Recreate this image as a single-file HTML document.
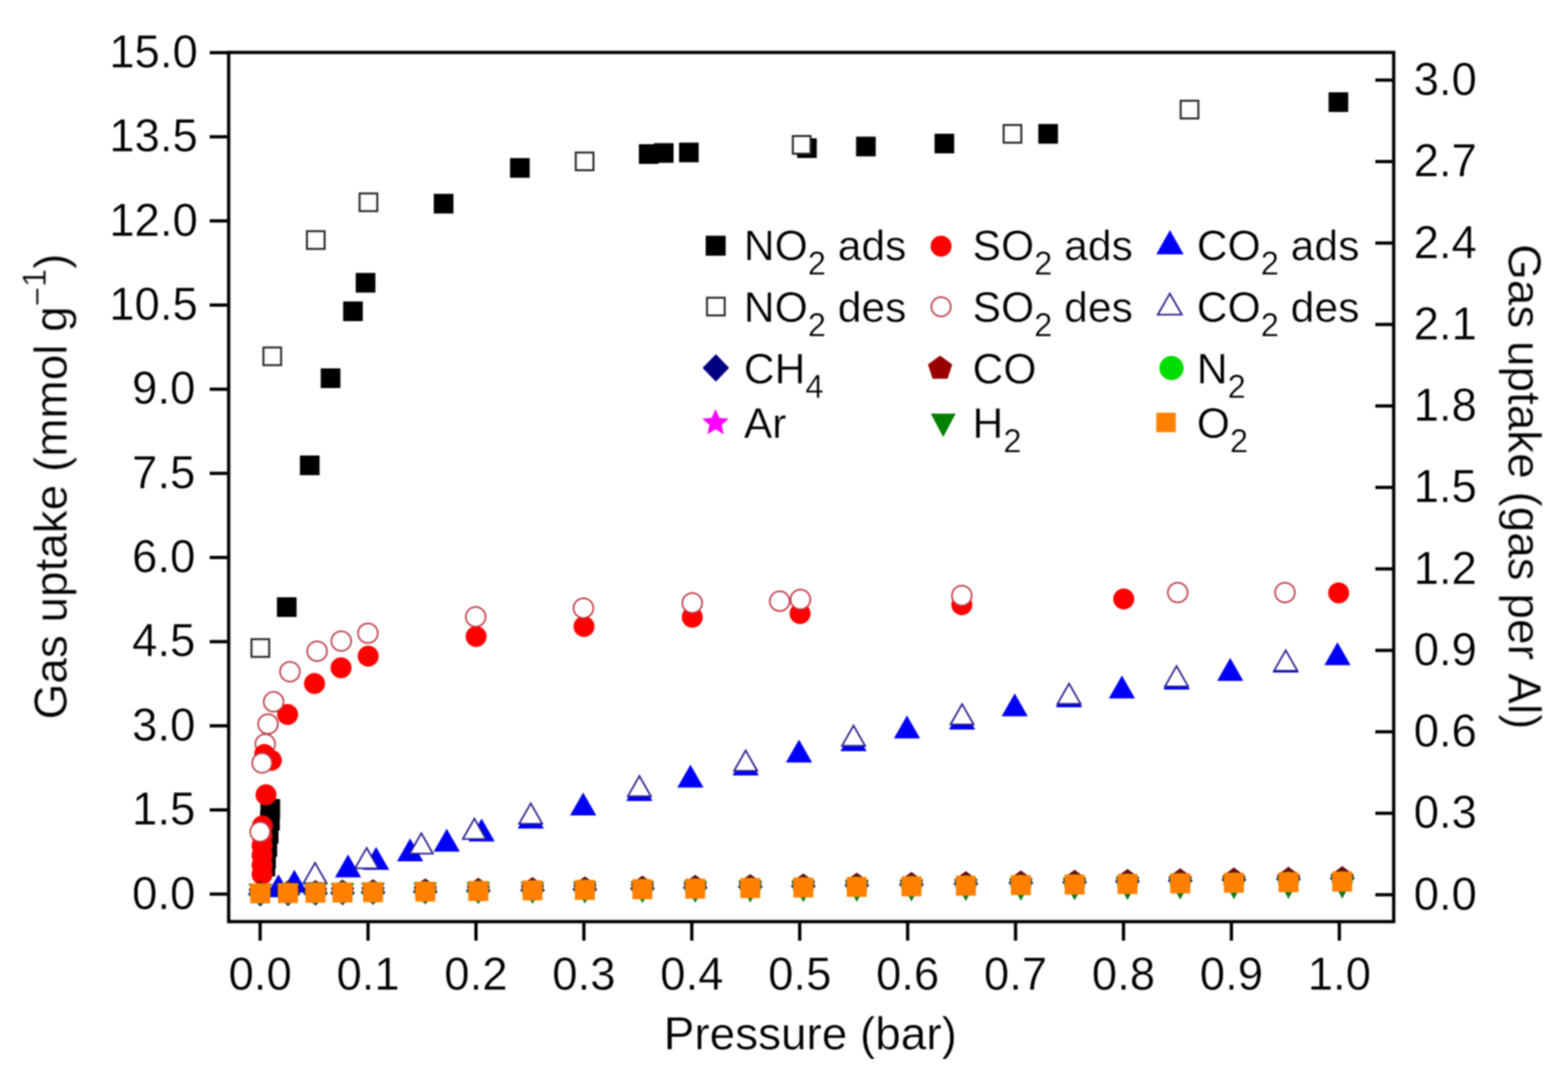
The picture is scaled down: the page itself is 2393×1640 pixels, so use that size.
<!DOCTYPE html>
<html><head><meta charset="utf-8"><title>Gas uptake vs pressure</title>
<style>html,body{margin:0;padding:0;background:#fff;}svg{display:block;}</style>
</head><body>
<svg width="2393" height="1640" viewBox="0 0 2393 1640">
<defs><filter id="soft" x="0" y="0" width="1" height="1" color-interpolation-filters="sRGB"><feGaussianBlur stdDeviation="0.8"/></filter></defs>
<rect width="2393" height="1640" fill="#fff"/>
<g filter="url(#soft)">
<rect x="397.5" y="1219.0" width="30" height="30" fill="#000"/>
<rect x="397.0" y="1237.0" width="30" height="30" fill="#000"/>
<rect x="395.0" y="1257.0" width="30" height="30" fill="#000"/>
<rect x="393.0" y="1277.0" width="30" height="30" fill="#000"/>
<rect x="391.0" y="1295.0" width="30" height="30" fill="#000"/>
<rect x="390.0" y="1307.0" width="30" height="30" fill="#000"/>
<rect x="422.6" y="911.2" width="30" height="30" fill="#000"/>
<rect x="457.7" y="694.9" width="30" height="30" fill="#000"/>
<rect x="489.5" y="562.0" width="30" height="30" fill="#000"/>
<rect x="523.7" y="459.9" width="30" height="30" fill="#000"/>
<rect x="542.9" y="416.4" width="30" height="30" fill="#000"/>
<rect x="662.0" y="295.7" width="30" height="30" fill="#000"/>
<rect x="778.4" y="241.2" width="30" height="30" fill="#000"/>
<rect x="975.0" y="220.0" width="30" height="30" fill="#000"/>
<rect x="998.0" y="218.4" width="30" height="30" fill="#000"/>
<rect x="1036.3" y="217.6" width="30" height="30" fill="#000"/>
<rect x="1216.5" y="211.0" width="30" height="30" fill="#000"/>
<rect x="1306.5" y="208.5" width="30" height="30" fill="#000"/>
<rect x="1426.3" y="204.0" width="30" height="30" fill="#000"/>
<rect x="1584.6" y="189.2" width="30" height="30" fill="#000"/>
<rect x="2027.6" y="140.8" width="30" height="30" fill="#000"/>
<circle cx="400.0" cy="1334.0" r="16" fill="#f00"/>
<circle cx="400.0" cy="1320.0" r="16" fill="#f00"/>
<circle cx="400.0" cy="1305.0" r="16" fill="#f00"/>
<circle cx="400.0" cy="1290.0" r="16" fill="#f00"/>
<circle cx="400.0" cy="1275.0" r="16" fill="#f00"/>
<circle cx="400.5" cy="1260.0" r="16" fill="#f00"/>
<circle cx="406.0" cy="1212.6" r="16" fill="#f00"/>
<circle cx="414.0" cy="1160.0" r="16" fill="#f00"/>
<circle cx="439.0" cy="1090.0" r="16" fill="#f00"/>
<circle cx="480.0" cy="1042.8" r="16" fill="#f00"/>
<circle cx="520.5" cy="1018.7" r="16" fill="#f00"/>
<circle cx="561.9" cy="1001.0" r="16" fill="#f00"/>
<circle cx="726.6" cy="971.0" r="16" fill="#f00"/>
<circle cx="891.3" cy="955.7" r="16" fill="#f00"/>
<circle cx="1056.5" cy="941.6" r="16" fill="#f00"/>
<circle cx="1221.0" cy="936.0" r="16" fill="#f00"/>
<circle cx="1467.9" cy="922.5" r="16" fill="#f00"/>
<circle cx="1715.0" cy="913.7" r="16" fill="#f00"/>
<circle cx="2043.0" cy="904.5" r="16" fill="#f00"/>
<polygon points="425.0,1333.7 405.0,1368.7 445.0,1368.7" fill="#0000f5"/>
<polygon points="449.2,1326.8 429.2,1361.8 469.2,1361.8" fill="#0000f5"/>
<polygon points="531.2,1303.5 511.2,1338.5 551.2,1338.5" fill="#0000f5"/>
<polygon points="574.0,1292.0 554.0,1327.0 594.0,1327.0" fill="#0000f5"/>
<polygon points="625.9,1279.0 605.9,1314.0 645.9,1314.0" fill="#0000f5"/>
<polygon points="681.8,1264.3 661.8,1299.3 701.8,1299.3" fill="#0000f5"/>
<polygon points="735.0,1248.8 715.0,1283.8 755.0,1283.8" fill="#0000f5"/>
<polygon points="810.0,1229.0 790.0,1264.0 830.0,1264.0" fill="#0000f5"/>
<polygon points="890.0,1209.0 870.0,1244.0 910.0,1244.0" fill="#0000f5"/>
<polygon points="975.8,1187.0 955.8,1222.0 995.8,1222.0" fill="#0000f5"/>
<polygon points="1053.7,1166.4 1033.7,1201.4 1073.7,1201.4" fill="#0000f5"/>
<polygon points="1138.0,1148.0 1118.0,1183.0 1158.0,1183.0" fill="#0000f5"/>
<polygon points="1219.4,1128.2 1199.4,1163.2 1239.4,1163.2" fill="#0000f5"/>
<polygon points="1302.6,1111.0 1282.6,1146.0 1322.6,1146.0" fill="#0000f5"/>
<polygon points="1384.2,1091.6 1364.2,1126.6 1404.2,1126.6" fill="#0000f5"/>
<polygon points="1468.3,1078.0 1448.3,1113.0 1488.3,1113.0" fill="#0000f5"/>
<polygon points="1548.6,1057.7 1528.6,1092.7 1568.6,1092.7" fill="#0000f5"/>
<polygon points="1631.5,1044.0 1611.5,1079.0 1651.5,1079.0" fill="#0000f5"/>
<polygon points="1712.2,1030.5 1692.2,1065.5 1732.2,1065.5" fill="#0000f5"/>
<polygon points="1795.6,1017.0 1775.6,1052.0 1815.6,1052.0" fill="#0000f5"/>
<polygon points="1877.5,1003.7 1857.5,1038.7 1897.5,1038.7" fill="#0000f5"/>
<polygon points="1962.2,991.0 1942.2,1026.0 1982.2,1026.0" fill="#0000f5"/>
<polygon points="2041.2,979.7 2021.2,1014.7 2061.2,1014.7" fill="#0000f5"/>
<rect x="383.8" y="975.1" width="27" height="27" fill="#fff" stroke="#262626" stroke-width="3"/>
<rect x="402.0" y="530.1" width="27" height="27" fill="#fff" stroke="#262626" stroke-width="3"/>
<rect x="468.4" y="352.7" width="27" height="27" fill="#fff" stroke="#262626" stroke-width="3"/>
<rect x="548.8" y="295.1" width="27" height="27" fill="#fff" stroke="#262626" stroke-width="3"/>
<rect x="878.7" y="232.7" width="27" height="27" fill="#fff" stroke="#262626" stroke-width="3"/>
<rect x="1210.0" y="207.5" width="27" height="27" fill="#fff" stroke="#262626" stroke-width="3"/>
<rect x="1531.7" y="190.7" width="27" height="27" fill="#fff" stroke="#262626" stroke-width="3"/>
<rect x="1801.9" y="153.7" width="27" height="27" fill="#fff" stroke="#262626" stroke-width="3"/>
<circle cx="397.0" cy="1269.0" r="15.1" fill="#fff" stroke="#bd3c48" stroke-width="2.5"/>
<circle cx="404.8" cy="1135.0" r="15.1" fill="#fff" stroke="#bd3c48" stroke-width="2.5"/>
<circle cx="409.0" cy="1104.5" r="15.1" fill="#fff" stroke="#bd3c48" stroke-width="2.5"/>
<circle cx="417.6" cy="1070.7" r="15.1" fill="#fff" stroke="#bd3c48" stroke-width="2.5"/>
<circle cx="442.5" cy="1024.8" r="15.1" fill="#fff" stroke="#bd3c48" stroke-width="2.5"/>
<circle cx="484.0" cy="993.5" r="15.1" fill="#fff" stroke="#bd3c48" stroke-width="2.5"/>
<circle cx="520.8" cy="978.0" r="15.1" fill="#fff" stroke="#bd3c48" stroke-width="2.5"/>
<circle cx="561.5" cy="966.0" r="15.1" fill="#fff" stroke="#bd3c48" stroke-width="2.5"/>
<circle cx="726.0" cy="941.0" r="15.1" fill="#fff" stroke="#bd3c48" stroke-width="2.5"/>
<circle cx="890.4" cy="927.8" r="15.1" fill="#fff" stroke="#bd3c48" stroke-width="2.5"/>
<circle cx="1056.5" cy="919.9" r="15.1" fill="#fff" stroke="#bd3c48" stroke-width="2.5"/>
<circle cx="1189.9" cy="917.2" r="15.1" fill="#fff" stroke="#bd3c48" stroke-width="2.5"/>
<circle cx="1221.6" cy="914.5" r="15.1" fill="#fff" stroke="#bd3c48" stroke-width="2.5"/>
<circle cx="1467.9" cy="908.6" r="15.1" fill="#fff" stroke="#bd3c48" stroke-width="2.5"/>
<circle cx="1797.4" cy="904.0" r="15.1" fill="#fff" stroke="#bd3c48" stroke-width="2.5"/>
<circle cx="1961.0" cy="904.0" r="15.1" fill="#fff" stroke="#bd3c48" stroke-width="2.5"/>
<circle cx="403.5" cy="1150.5" r="15.5" fill="#f00"/>
<circle cx="400.0" cy="1164.0" r="15.1" fill="#fff" stroke="#bd3c48" stroke-width="2.5"/>
<polygon points="480.8,1316.3 463.1,1347.4 498.5,1347.4" fill="#fff" stroke="#2a2090" stroke-width="2.6" stroke-linejoin="miter"/>
<polygon points="559.6,1293.6 541.9,1324.7 577.3,1324.7" fill="#fff" stroke="#2a2090" stroke-width="2.6" stroke-linejoin="miter"/>
<polygon points="643.0,1271.2 625.3,1302.3 660.7,1302.3" fill="#fff" stroke="#2a2090" stroke-width="2.6" stroke-linejoin="miter"/>
<polygon points="724.0,1248.9 706.3,1280.0 741.7,1280.0" fill="#fff" stroke="#2a2090" stroke-width="2.6" stroke-linejoin="miter"/>
<polygon points="810.0,1225.6 792.3,1256.7 827.7,1256.7" fill="#fff" stroke="#2a2090" stroke-width="2.6" stroke-linejoin="miter"/>
<polygon points="975.8,1183.8 958.1,1214.9 993.5,1214.9" fill="#fff" stroke="#2a2090" stroke-width="2.6" stroke-linejoin="miter"/>
<polygon points="1138.0,1144.9 1120.3,1176.0 1155.7,1176.0" fill="#fff" stroke="#2a2090" stroke-width="2.6" stroke-linejoin="miter"/>
<polygon points="1302.6,1106.8 1284.9,1137.9 1320.3,1137.9" fill="#fff" stroke="#2a2090" stroke-width="2.6" stroke-linejoin="miter"/>
<polygon points="1468.3,1074.2 1450.6,1105.3 1486.0,1105.3" fill="#fff" stroke="#2a2090" stroke-width="2.6" stroke-linejoin="miter"/>
<polygon points="1631.5,1042.8 1613.8,1073.9 1649.2,1073.9" fill="#fff" stroke="#2a2090" stroke-width="2.6" stroke-linejoin="miter"/>
<polygon points="1795.6,1016.1 1777.9,1047.2 1813.3,1047.2" fill="#fff" stroke="#2a2090" stroke-width="2.6" stroke-linejoin="miter"/>
<polygon points="1962.2,992.1 1944.5,1023.2 1979.9,1023.2" fill="#fff" stroke="#2a2090" stroke-width="2.6" stroke-linejoin="miter"/>
<polygon points="397.2,1345.0 416.2,1364.0 397.2,1383.0 378.2,1364.0" fill="#14086a"/>
<polygon points="397.2,1343.5 414.8,1356.3 408.1,1377.0 386.3,1377.0 379.6,1356.3" fill="#6a0808"/>
<circle cx="397.2" cy="1363.0" r="16" fill="#10c010"/>
<polygon points="397.2,1347.0 401.8,1357.7 413.4,1358.7 404.6,1366.4 407.2,1377.8 397.2,1371.8 387.2,1377.8 389.8,1366.4 381.0,1358.7 392.6,1357.7" fill="#ff00ff"/>
<polygon points="379.2,1348.0 415.2,1348.0 397.2,1382.0" fill="#0a7a10"/>
<rect x="381.9" y="1347.7" width="30.5" height="30.5" fill="#ff8000"/>
<polygon points="439.5,1344.4 458.5,1363.4 439.5,1382.4 420.5,1363.4" fill="#14086a"/>
<polygon points="439.5,1342.9 457.1,1355.7 450.4,1376.4 428.6,1376.4 421.9,1355.7" fill="#6a0808"/>
<circle cx="439.5" cy="1362.5" r="16" fill="#10c010"/>
<polygon points="439.5,1346.5 444.1,1357.2 455.7,1358.3 446.9,1366.0 449.5,1377.3 439.5,1371.4 429.5,1377.3 432.1,1366.0 423.3,1358.3 434.9,1357.2" fill="#ff00ff"/>
<polygon points="421.5,1347.7 457.5,1347.7 439.5,1381.7" fill="#0a7a10"/>
<rect x="424.2" y="1347.3" width="30.5" height="30.5" fill="#ff8000"/>
<polygon points="481.5,1343.8 500.5,1362.8 481.5,1381.8 462.5,1362.8" fill="#14086a"/>
<polygon points="481.5,1342.4 499.1,1355.2 492.4,1375.8 470.6,1375.8 463.9,1355.2" fill="#6a0808"/>
<circle cx="481.5" cy="1362.1" r="16" fill="#10c010"/>
<polygon points="481.5,1346.1 486.1,1356.7 497.7,1357.8 488.9,1365.5 491.5,1376.8 481.5,1370.9 471.5,1376.8 474.1,1365.5 465.3,1357.8 476.9,1356.7" fill="#ff00ff"/>
<polygon points="463.5,1347.4 499.5,1347.4 481.5,1381.4" fill="#0a7a10"/>
<rect x="466.2" y="1346.8" width="30.5" height="30.5" fill="#ff8000"/>
<polygon points="522.8,1343.2 541.8,1362.2 522.8,1381.2 503.8,1362.2" fill="#14086a"/>
<polygon points="522.8,1341.8 540.4,1354.6 533.7,1375.3 511.9,1375.3 505.2,1354.6" fill="#6a0808"/>
<circle cx="522.8" cy="1361.6" r="16" fill="#10c010"/>
<polygon points="522.8,1345.6 527.4,1356.3 539.0,1357.4 530.2,1365.0 532.8,1376.4 522.8,1370.4 512.8,1376.4 515.4,1365.0 506.6,1357.4 518.2,1356.3" fill="#ff00ff"/>
<polygon points="504.8,1347.2 540.8,1347.2 522.8,1381.2" fill="#0a7a10"/>
<rect x="507.5" y="1346.4" width="30.5" height="30.5" fill="#ff8000"/>
<polygon points="569.3,1342.5 588.3,1361.5 569.3,1380.5 550.3,1361.5" fill="#14086a"/>
<polygon points="569.3,1341.2 586.9,1354.0 580.2,1374.7 558.4,1374.7 551.7,1354.0" fill="#6a0808"/>
<circle cx="569.3" cy="1361.1" r="16" fill="#10c010"/>
<polygon points="569.3,1345.1 573.9,1355.8 585.5,1356.9 576.7,1364.5 579.3,1375.9 569.3,1369.9 559.3,1375.9 561.9,1364.5 553.1,1356.9 564.7,1355.8" fill="#ff00ff"/>
<polygon points="551.3,1346.8 587.3,1346.8 569.3,1380.8" fill="#0a7a10"/>
<rect x="554.0" y="1345.9" width="30.5" height="30.5" fill="#ff8000"/>
<polygon points="649.0,1341.3 668.0,1360.3 649.0,1379.3 630.0,1360.3" fill="#14086a"/>
<polygon points="649.0,1340.1 666.6,1352.9 659.9,1373.6 638.1,1373.6 631.4,1352.9" fill="#6a0808"/>
<circle cx="649.0" cy="1360.2" r="16" fill="#10c010"/>
<polygon points="649.0,1344.2 653.6,1354.9 665.2,1356.0 656.4,1363.7 659.0,1375.0 649.0,1369.1 639.0,1375.0 641.6,1363.7 632.8,1356.0 644.4,1354.9" fill="#ff00ff"/>
<polygon points="631.0,1346.3 667.0,1346.3 649.0,1380.3" fill="#0a7a10"/>
<rect x="633.8" y="1345.0" width="30.5" height="30.5" fill="#ff8000"/>
<polygon points="730.0,1340.1 749.0,1359.1 730.0,1378.1 711.0,1359.1" fill="#14086a"/>
<polygon points="730.0,1339.1 747.6,1351.8 740.9,1372.5 719.1,1372.5 712.4,1351.8" fill="#6a0808"/>
<circle cx="730.0" cy="1359.4" r="16" fill="#10c010"/>
<polygon points="730.0,1343.4 734.6,1354.0 746.2,1355.1 737.4,1362.8 740.0,1374.1 730.0,1368.2 720.0,1374.1 722.6,1362.8 713.8,1355.1 725.4,1354.0" fill="#ff00ff"/>
<polygon points="712.0,1345.8 748.0,1345.8 730.0,1379.8" fill="#0a7a10"/>
<rect x="714.8" y="1344.1" width="30.5" height="30.5" fill="#ff8000"/>
<polygon points="812.6,1338.9 831.6,1357.9 812.6,1376.9 793.6,1357.9" fill="#14086a"/>
<polygon points="812.6,1337.9 830.2,1350.7 823.5,1371.4 801.7,1371.4 795.0,1350.7" fill="#6a0808"/>
<circle cx="812.6" cy="1358.5" r="16" fill="#10c010"/>
<polygon points="812.6,1342.5 817.2,1353.1 828.8,1354.2 820.0,1361.9 822.6,1373.2 812.6,1367.3 802.6,1373.2 805.2,1361.9 796.4,1354.2 808.0,1353.1" fill="#ff00ff"/>
<polygon points="794.6,1345.2 830.6,1345.2 812.6,1379.2" fill="#0a7a10"/>
<rect x="797.4" y="1343.2" width="30.5" height="30.5" fill="#ff8000"/>
<polygon points="892.6,1337.8 911.6,1356.8 892.6,1375.8 873.6,1356.8" fill="#14086a"/>
<polygon points="892.6,1336.9 910.2,1349.7 903.5,1370.3 881.7,1370.3 875.0,1349.7" fill="#6a0808"/>
<circle cx="892.6" cy="1357.6" r="16" fill="#10c010"/>
<polygon points="892.6,1341.6 897.2,1352.3 908.8,1353.3 900.0,1361.0 902.6,1372.3 892.6,1366.4 882.6,1372.3 885.2,1361.0 876.4,1353.3 888.0,1352.3" fill="#ff00ff"/>
<polygon points="874.6,1344.7 910.6,1344.7 892.6,1378.7" fill="#0a7a10"/>
<rect x="877.4" y="1342.3" width="30.5" height="30.5" fill="#ff8000"/>
<polygon points="980.4,1336.5 999.4,1355.5 980.4,1374.5 961.4,1355.5" fill="#14086a"/>
<polygon points="980.4,1335.7 998.0,1348.5 991.3,1369.2 969.5,1369.2 962.8,1348.5" fill="#6a0808"/>
<circle cx="980.4" cy="1356.6" r="16" fill="#10c010"/>
<polygon points="980.4,1340.6 985.0,1351.3 996.6,1352.4 987.8,1360.0 990.4,1371.4 980.4,1365.4 970.4,1371.4 973.0,1360.0 964.2,1352.4 975.8,1351.3" fill="#ff00ff"/>
<polygon points="962.4,1344.1 998.4,1344.1 980.4,1378.1" fill="#0a7a10"/>
<rect x="965.1" y="1341.4" width="30.5" height="30.5" fill="#ff8000"/>
<polygon points="1061.0,1335.3 1080.0,1354.3 1061.0,1373.3 1042.0,1354.3" fill="#14086a"/>
<polygon points="1061.0,1334.6 1078.6,1347.4 1071.9,1368.1 1050.1,1368.1 1043.4,1347.4" fill="#6a0808"/>
<circle cx="1061.0" cy="1355.7" r="16" fill="#10c010"/>
<polygon points="1061.0,1339.7 1065.6,1350.4 1077.2,1351.5 1068.4,1359.2 1071.0,1370.5 1061.0,1364.6 1051.0,1370.5 1053.6,1359.2 1044.8,1351.5 1056.4,1350.4" fill="#ff00ff"/>
<polygon points="1043.0,1343.6 1079.0,1343.6 1061.0,1377.6" fill="#0a7a10"/>
<rect x="1045.8" y="1340.5" width="30.5" height="30.5" fill="#ff8000"/>
<polygon points="1145.0,1334.1 1164.0,1353.1 1145.0,1372.1 1126.0,1353.1" fill="#14086a"/>
<polygon points="1145.0,1333.5 1162.6,1346.3 1155.9,1367.0 1134.1,1367.0 1127.4,1346.3" fill="#6a0808"/>
<circle cx="1145.0" cy="1354.8" r="16" fill="#10c010"/>
<polygon points="1145.0,1338.8 1149.6,1349.5 1161.2,1350.6 1152.4,1358.2 1155.0,1369.6 1145.0,1363.6 1135.0,1369.6 1137.6,1358.2 1128.8,1350.6 1140.4,1349.5" fill="#ff00ff"/>
<polygon points="1127.0,1343.0 1163.0,1343.0 1145.0,1377.0" fill="#0a7a10"/>
<rect x="1129.8" y="1339.6" width="30.5" height="30.5" fill="#ff8000"/>
<polygon points="1226.0,1332.9 1245.0,1351.9 1226.0,1370.9 1207.0,1351.9" fill="#14086a"/>
<polygon points="1226.0,1332.4 1243.6,1345.2 1236.9,1365.9 1215.1,1365.9 1208.4,1345.2" fill="#6a0808"/>
<circle cx="1226.0" cy="1353.9" r="16" fill="#10c010"/>
<polygon points="1226.0,1337.9 1230.6,1348.6 1242.2,1349.7 1233.4,1357.4 1236.0,1368.7 1226.0,1362.8 1216.0,1368.7 1218.6,1357.4 1209.8,1349.7 1221.4,1348.6" fill="#ff00ff"/>
<polygon points="1208.0,1342.5 1244.0,1342.5 1226.0,1376.5" fill="#0a7a10"/>
<rect x="1210.8" y="1338.7" width="30.5" height="30.5" fill="#ff8000"/>
<polygon points="1307.6,1331.7 1326.6,1350.7 1307.6,1369.7 1288.6,1350.7" fill="#14086a"/>
<polygon points="1307.6,1331.3 1325.2,1344.1 1318.5,1364.8 1296.7,1364.8 1290.0,1344.1" fill="#6a0808"/>
<circle cx="1307.6" cy="1353.0" r="16" fill="#10c010"/>
<polygon points="1307.6,1337.0 1312.2,1347.7 1323.8,1348.8 1315.0,1356.5 1317.6,1367.8 1307.6,1361.9 1297.6,1367.8 1300.2,1356.5 1291.4,1348.8 1303.0,1347.7" fill="#ff00ff"/>
<polygon points="1289.6,1341.9 1325.6,1341.9 1307.6,1375.9" fill="#0a7a10"/>
<rect x="1292.3" y="1337.8" width="30.5" height="30.5" fill="#ff8000"/>
<polygon points="1391.0,1330.5 1410.0,1349.5 1391.0,1368.5 1372.0,1349.5" fill="#14086a"/>
<polygon points="1391.0,1330.2 1408.6,1343.0 1401.9,1363.7 1380.1,1363.7 1373.4,1343.0" fill="#6a0808"/>
<circle cx="1391.0" cy="1352.1" r="16" fill="#10c010"/>
<polygon points="1391.0,1336.1 1395.6,1346.8 1407.2,1347.9 1398.4,1355.6 1401.0,1366.9 1391.0,1361.0 1381.0,1366.9 1383.6,1355.6 1374.8,1347.9 1386.4,1346.8" fill="#ff00ff"/>
<polygon points="1373.0,1341.4 1409.0,1341.4 1391.0,1375.4" fill="#0a7a10"/>
<rect x="1375.8" y="1336.9" width="30.5" height="30.5" fill="#ff8000"/>
<polygon points="1474.0,1329.3 1493.0,1348.3 1474.0,1367.3 1455.0,1348.3" fill="#14086a"/>
<polygon points="1474.0,1329.1 1491.6,1341.9 1484.9,1362.6 1463.1,1362.6 1456.4,1341.9" fill="#6a0808"/>
<circle cx="1474.0" cy="1351.2" r="16" fill="#10c010"/>
<polygon points="1474.0,1335.2 1478.6,1345.9 1490.2,1347.0 1481.4,1354.6 1484.0,1366.0 1474.0,1360.0 1464.0,1366.0 1466.6,1354.6 1457.8,1347.0 1469.4,1345.9" fill="#ff00ff"/>
<polygon points="1456.0,1340.8 1492.0,1340.8 1474.0,1374.8" fill="#0a7a10"/>
<rect x="1458.8" y="1336.0" width="30.5" height="30.5" fill="#ff8000"/>
<polygon points="1558.0,1328.1 1577.0,1347.1 1558.0,1366.1 1539.0,1347.1" fill="#14086a"/>
<polygon points="1558.0,1328.0 1575.6,1340.8 1568.9,1361.5 1547.1,1361.5 1540.4,1340.8" fill="#6a0808"/>
<circle cx="1558.0" cy="1350.3" r="16" fill="#10c010"/>
<polygon points="1558.0,1334.3 1562.6,1345.0 1574.2,1346.1 1565.4,1353.7 1568.0,1365.1 1558.0,1359.1 1548.0,1365.1 1550.6,1353.7 1541.8,1346.1 1553.4,1345.0" fill="#ff00ff"/>
<polygon points="1540.0,1340.2 1576.0,1340.2 1558.0,1374.2" fill="#0a7a10"/>
<rect x="1542.8" y="1335.1" width="30.5" height="30.5" fill="#ff8000"/>
<polygon points="1640.0,1326.9 1659.0,1345.9 1640.0,1364.9 1621.0,1345.9" fill="#14086a"/>
<polygon points="1640.0,1326.9 1657.6,1339.7 1650.9,1360.4 1629.1,1360.4 1622.4,1339.7" fill="#6a0808"/>
<circle cx="1640.0" cy="1349.4" r="16" fill="#10c010"/>
<polygon points="1640.0,1333.4 1644.6,1344.1 1656.2,1345.2 1647.4,1352.8 1650.0,1364.2 1640.0,1358.2 1630.0,1364.2 1632.6,1352.8 1623.8,1345.2 1635.4,1344.1" fill="#ff00ff"/>
<polygon points="1622.0,1339.7 1658.0,1339.7 1640.0,1373.7" fill="#0a7a10"/>
<rect x="1624.8" y="1334.2" width="30.5" height="30.5" fill="#ff8000"/>
<polygon points="1720.7,1325.7 1739.7,1344.7 1720.7,1363.7 1701.7,1344.7" fill="#14086a"/>
<polygon points="1720.7,1325.8 1738.3,1338.6 1731.6,1359.3 1709.8,1359.3 1703.1,1338.6" fill="#6a0808"/>
<circle cx="1720.7" cy="1348.5" r="16" fill="#10c010"/>
<polygon points="1720.7,1332.5 1725.3,1343.2 1736.9,1344.3 1728.1,1351.9 1730.7,1363.3 1720.7,1357.4 1710.7,1363.3 1713.3,1351.9 1704.5,1344.3 1716.1,1343.2" fill="#ff00ff"/>
<polygon points="1702.7,1339.2 1738.7,1339.2 1720.7,1373.2" fill="#0a7a10"/>
<rect x="1705.5" y="1333.3" width="30.5" height="30.5" fill="#ff8000"/>
<polygon points="1801.2,1324.5 1820.2,1343.5 1801.2,1362.5 1782.2,1343.5" fill="#14086a"/>
<polygon points="1801.2,1324.7 1818.8,1337.5 1812.1,1358.2 1790.3,1358.2 1783.6,1337.5" fill="#6a0808"/>
<circle cx="1801.2" cy="1347.7" r="16" fill="#10c010"/>
<polygon points="1801.2,1331.7 1805.8,1342.3 1817.4,1343.4 1808.6,1351.1 1811.2,1362.4 1801.2,1356.5 1791.2,1362.4 1793.8,1351.1 1785.0,1343.4 1796.6,1342.3" fill="#ff00ff"/>
<polygon points="1783.2,1338.6 1819.2,1338.6 1801.2,1372.6" fill="#0a7a10"/>
<rect x="1786.0" y="1332.4" width="30.5" height="30.5" fill="#ff8000"/>
<polygon points="1883.1,1323.3 1902.1,1342.3 1883.1,1361.3 1864.1,1342.3" fill="#14086a"/>
<polygon points="1883.1,1323.6 1900.7,1336.4 1894.0,1357.1 1872.2,1357.1 1865.5,1336.4" fill="#6a0808"/>
<circle cx="1883.1" cy="1346.8" r="16" fill="#10c010"/>
<polygon points="1883.1,1330.8 1887.7,1341.4 1899.3,1342.5 1890.5,1350.2 1893.1,1361.5 1883.1,1355.6 1873.1,1361.5 1875.7,1350.2 1866.9,1342.5 1878.5,1341.4" fill="#ff00ff"/>
<polygon points="1865.1,1338.1 1901.1,1338.1 1883.1,1372.1" fill="#0a7a10"/>
<rect x="1867.8" y="1331.5" width="30.5" height="30.5" fill="#ff8000"/>
<polygon points="1966.4,1322.1 1985.4,1341.1 1966.4,1360.1 1947.4,1341.1" fill="#14086a"/>
<polygon points="1966.4,1322.5 1984.0,1335.3 1977.3,1356.0 1955.5,1356.0 1948.8,1335.3" fill="#6a0808"/>
<circle cx="1966.4" cy="1345.8" r="16" fill="#10c010"/>
<polygon points="1966.4,1329.8 1971.0,1340.5 1982.6,1341.6 1973.8,1349.3 1976.4,1360.6 1966.4,1354.7 1956.4,1360.6 1959.0,1349.3 1950.2,1341.6 1961.8,1340.5" fill="#ff00ff"/>
<polygon points="1948.4,1337.5 1984.4,1337.5 1966.4,1371.5" fill="#0a7a10"/>
<rect x="1951.2" y="1330.6" width="30.5" height="30.5" fill="#ff8000"/>
<polygon points="2048.5,1320.9 2067.5,1339.9 2048.5,1358.9 2029.5,1339.9" fill="#14086a"/>
<polygon points="2048.5,1321.4 2066.1,1334.2 2059.4,1354.9 2037.6,1354.9 2030.9,1334.2" fill="#6a0808"/>
<circle cx="2048.5" cy="1345.0" r="16" fill="#10c010"/>
<polygon points="2048.5,1329.0 2053.1,1339.6 2064.7,1340.7 2055.9,1348.4 2058.5,1359.7 2048.5,1353.8 2038.5,1359.7 2041.1,1348.4 2032.3,1340.7 2043.9,1339.6" fill="#ff00ff"/>
<polygon points="2030.5,1337.0 2066.5,1337.0 2048.5,1371.0" fill="#0a7a10"/>
<rect x="2033.2" y="1329.7" width="30.5" height="30.5" fill="#ff8000"/>
<rect x="349" y="80" width="1778" height="1326" fill="none" stroke="#000" stroke-width="5"/>
<line x1="320" y1="80.3" x2="349" y2="80.3" stroke="#000" stroke-width="5"/>
<line x1="320" y1="208.7" x2="349" y2="208.7" stroke="#000" stroke-width="5"/>
<line x1="320" y1="337.0" x2="349" y2="337.0" stroke="#000" stroke-width="5"/>
<line x1="320" y1="465.4" x2="349" y2="465.4" stroke="#000" stroke-width="5"/>
<line x1="320" y1="593.8" x2="349" y2="593.8" stroke="#000" stroke-width="5"/>
<line x1="320" y1="722.1" x2="349" y2="722.1" stroke="#000" stroke-width="5"/>
<line x1="320" y1="850.5" x2="349" y2="850.5" stroke="#000" stroke-width="5"/>
<line x1="320" y1="978.9" x2="349" y2="978.9" stroke="#000" stroke-width="5"/>
<line x1="320" y1="1107.3" x2="349" y2="1107.3" stroke="#000" stroke-width="5"/>
<line x1="320" y1="1235.6" x2="349" y2="1235.6" stroke="#000" stroke-width="5"/>
<line x1="320" y1="1364.0" x2="349" y2="1364.0" stroke="#000" stroke-width="5"/>
<line x1="2099" y1="122.2" x2="2127" y2="122.2" stroke="#000" stroke-width="5"/>
<line x1="2099" y1="246.5" x2="2127" y2="246.5" stroke="#000" stroke-width="5"/>
<line x1="2099" y1="370.8" x2="2127" y2="370.8" stroke="#000" stroke-width="5"/>
<line x1="2099" y1="495.0" x2="2127" y2="495.0" stroke="#000" stroke-width="5"/>
<line x1="2099" y1="619.3" x2="2127" y2="619.3" stroke="#000" stroke-width="5"/>
<line x1="2099" y1="743.6" x2="2127" y2="743.6" stroke="#000" stroke-width="5"/>
<line x1="2099" y1="867.9" x2="2127" y2="867.9" stroke="#000" stroke-width="5"/>
<line x1="2099" y1="992.2" x2="2127" y2="992.2" stroke="#000" stroke-width="5"/>
<line x1="2099" y1="1116.4" x2="2127" y2="1116.4" stroke="#000" stroke-width="5"/>
<line x1="2099" y1="1240.7" x2="2127" y2="1240.7" stroke="#000" stroke-width="5"/>
<line x1="2099" y1="1365.0" x2="2127" y2="1365.0" stroke="#000" stroke-width="5"/>
<line x1="397.0" y1="1406" x2="397.0" y2="1435" stroke="#000" stroke-width="5"/>
<line x1="561.7" y1="1406" x2="561.7" y2="1435" stroke="#000" stroke-width="5"/>
<line x1="726.4" y1="1406" x2="726.4" y2="1435" stroke="#000" stroke-width="5"/>
<line x1="891.1" y1="1406" x2="891.1" y2="1435" stroke="#000" stroke-width="5"/>
<line x1="1055.8" y1="1406" x2="1055.8" y2="1435" stroke="#000" stroke-width="5"/>
<line x1="1220.5" y1="1406" x2="1220.5" y2="1435" stroke="#000" stroke-width="5"/>
<line x1="1385.2" y1="1406" x2="1385.2" y2="1435" stroke="#000" stroke-width="5"/>
<line x1="1549.9" y1="1406" x2="1549.9" y2="1435" stroke="#000" stroke-width="5"/>
<line x1="1714.6" y1="1406" x2="1714.6" y2="1435" stroke="#000" stroke-width="5"/>
<line x1="1879.3" y1="1406" x2="1879.3" y2="1435" stroke="#000" stroke-width="5"/>
<line x1="2044.0" y1="1406" x2="2044.0" y2="1435" stroke="#000" stroke-width="5"/>
<text x="166.7" y="102.9" font-family="Liberation Sans, Arial, Helvetica, sans-serif" stroke="#fff" stroke-width="0.5" font-size="69.5" fill="#000">15.0</text>
<text x="166.7" y="231.3" font-family="Liberation Sans, Arial, Helvetica, sans-serif" stroke="#fff" stroke-width="0.5" font-size="69.5" fill="#000">13.5</text>
<text x="166.7" y="359.6" font-family="Liberation Sans, Arial, Helvetica, sans-serif" stroke="#fff" stroke-width="0.5" font-size="69.5" fill="#000">12.0</text>
<text x="166.7" y="488.0" font-family="Liberation Sans, Arial, Helvetica, sans-serif" stroke="#fff" stroke-width="0.5" font-size="69.5" fill="#000">10.5</text>
<text x="201.6" y="616.3" font-family="Liberation Sans, Arial, Helvetica, sans-serif" stroke="#fff" stroke-width="0.5" font-size="69.5" fill="#000">9.0</text>
<text x="201.6" y="744.7" font-family="Liberation Sans, Arial, Helvetica, sans-serif" stroke="#fff" stroke-width="0.5" font-size="69.5" fill="#000">7.5</text>
<text x="201.6" y="873.1" font-family="Liberation Sans, Arial, Helvetica, sans-serif" stroke="#fff" stroke-width="0.5" font-size="69.5" fill="#000">6.0</text>
<text x="201.6" y="1001.4" font-family="Liberation Sans, Arial, Helvetica, sans-serif" stroke="#fff" stroke-width="0.5" font-size="69.5" fill="#000">4.5</text>
<text x="201.6" y="1129.8" font-family="Liberation Sans, Arial, Helvetica, sans-serif" stroke="#fff" stroke-width="0.5" font-size="69.5" fill="#000">3.0</text>
<text x="201.6" y="1258.1" font-family="Liberation Sans, Arial, Helvetica, sans-serif" stroke="#fff" stroke-width="0.5" font-size="69.5" fill="#000">1.5</text>
<text x="201.6" y="1386.5" font-family="Liberation Sans, Arial, Helvetica, sans-serif" stroke="#fff" stroke-width="0.5" font-size="69.5" fill="#000">0.0</text>
<text x="2157.4" y="144.9" font-family="Liberation Sans, Arial, Helvetica, sans-serif" stroke="#fff" stroke-width="0.5" font-size="69.5" fill="#000">3.0</text>
<text x="2157.4" y="269.2" font-family="Liberation Sans, Arial, Helvetica, sans-serif" stroke="#fff" stroke-width="0.5" font-size="69.5" fill="#000">2.7</text>
<text x="2157.4" y="393.5" font-family="Liberation Sans, Arial, Helvetica, sans-serif" stroke="#fff" stroke-width="0.5" font-size="69.5" fill="#000">2.4</text>
<text x="2157.4" y="517.7" font-family="Liberation Sans, Arial, Helvetica, sans-serif" stroke="#fff" stroke-width="0.5" font-size="69.5" fill="#000">2.1</text>
<text x="2157.4" y="642.0" font-family="Liberation Sans, Arial, Helvetica, sans-serif" stroke="#fff" stroke-width="0.5" font-size="69.5" fill="#000">1.8</text>
<text x="2157.4" y="766.3" font-family="Liberation Sans, Arial, Helvetica, sans-serif" stroke="#fff" stroke-width="0.5" font-size="69.5" fill="#000">1.5</text>
<text x="2157.4" y="890.6" font-family="Liberation Sans, Arial, Helvetica, sans-serif" stroke="#fff" stroke-width="0.5" font-size="69.5" fill="#000">1.2</text>
<text x="2157.4" y="1014.9" font-family="Liberation Sans, Arial, Helvetica, sans-serif" stroke="#fff" stroke-width="0.5" font-size="69.5" fill="#000">0.9</text>
<text x="2157.4" y="1139.1" font-family="Liberation Sans, Arial, Helvetica, sans-serif" stroke="#fff" stroke-width="0.5" font-size="69.5" fill="#000">0.6</text>
<text x="2157.4" y="1263.4" font-family="Liberation Sans, Arial, Helvetica, sans-serif" stroke="#fff" stroke-width="0.5" font-size="69.5" fill="#000">0.3</text>
<text x="2157.4" y="1387.7" font-family="Liberation Sans, Arial, Helvetica, sans-serif" stroke="#fff" stroke-width="0.5" font-size="69.5" fill="#000">0.0</text>
<text x="397.0" y="1510" text-anchor="middle" font-family="Liberation Sans, Arial, Helvetica, sans-serif" stroke="#fff" stroke-width="0.5" font-size="69.5" fill="#000">0.0</text>
<text x="561.7" y="1510" text-anchor="middle" font-family="Liberation Sans, Arial, Helvetica, sans-serif" stroke="#fff" stroke-width="0.5" font-size="69.5" fill="#000">0.1</text>
<text x="726.4" y="1510" text-anchor="middle" font-family="Liberation Sans, Arial, Helvetica, sans-serif" stroke="#fff" stroke-width="0.5" font-size="69.5" fill="#000">0.2</text>
<text x="891.1" y="1510" text-anchor="middle" font-family="Liberation Sans, Arial, Helvetica, sans-serif" stroke="#fff" stroke-width="0.5" font-size="69.5" fill="#000">0.3</text>
<text x="1055.8" y="1510" text-anchor="middle" font-family="Liberation Sans, Arial, Helvetica, sans-serif" stroke="#fff" stroke-width="0.5" font-size="69.5" fill="#000">0.4</text>
<text x="1220.5" y="1510" text-anchor="middle" font-family="Liberation Sans, Arial, Helvetica, sans-serif" stroke="#fff" stroke-width="0.5" font-size="69.5" fill="#000">0.5</text>
<text x="1385.2" y="1510" text-anchor="middle" font-family="Liberation Sans, Arial, Helvetica, sans-serif" stroke="#fff" stroke-width="0.5" font-size="69.5" fill="#000">0.6</text>
<text x="1549.9" y="1510" text-anchor="middle" font-family="Liberation Sans, Arial, Helvetica, sans-serif" stroke="#fff" stroke-width="0.5" font-size="69.5" fill="#000">0.7</text>
<text x="1714.6" y="1510" text-anchor="middle" font-family="Liberation Sans, Arial, Helvetica, sans-serif" stroke="#fff" stroke-width="0.5" font-size="69.5" fill="#000">0.8</text>
<text x="1879.3" y="1510" text-anchor="middle" font-family="Liberation Sans, Arial, Helvetica, sans-serif" stroke="#fff" stroke-width="0.5" font-size="69.5" fill="#000">0.9</text>
<text x="2044.0" y="1510" text-anchor="middle" font-family="Liberation Sans, Arial, Helvetica, sans-serif" stroke="#fff" stroke-width="0.5" font-size="69.5" fill="#000">1.0</text>
<text x="1013" y="1601" font-family="Liberation Sans, Arial, Helvetica, sans-serif" stroke="#fff" stroke-width="0.5" font-size="70" fill="#000">Pressure (bar)</text>
<text transform="translate(101.7,1097.5) rotate(-90)" font-family="Liberation Sans, Arial, Helvetica, sans-serif" stroke="#fff" stroke-width="0.5" font-size="70" fill="#000">Gas uptake (mmol g<tspan font-size="50" dy="-28">−</tspan><tspan font-size="50" dy="-4">1</tspan><tspan dy="32">)</tspan></text>
<text transform="translate(2302.3,372.4) rotate(90)" font-family="Liberation Sans, Arial, Helvetica, sans-serif" stroke="#fff" stroke-width="0.5" font-size="70" fill="#000">Gas uptake (gas per <tspan dx="5">Al)</tspan></text>
<rect x="1077.0" y="359.6" width="30.5" height="30.5" fill="#000"/>
<rect x="1079.0" y="454.2" width="27" height="27" fill="#fff" stroke="#262626" stroke-width="3"/>
<polygon points="1092.5,540.3 1112.8,561.3 1092.5,582.3 1072.2,561.3" fill="#000080"/>
<polygon points="1092.0,624.0 1097.8,637.4 1112.3,638.7 1101.3,648.3 1104.5,662.5 1092.0,655.1 1079.5,662.5 1082.7,648.3 1071.7,638.7 1086.2,637.4" fill="#ff00ff"/>
<circle cx="1436.2" cy="375.5" r="16" fill="#f00"/>
<circle cx="1436.2" cy="468.0" r="14.8" fill="#fff" stroke="#bd3c48" stroke-width="2.5"/>
<polygon points="1434.7,542.4 1453.2,555.9 1446.2,577.7 1423.2,577.7 1416.2,555.9" fill="#990000"/>
<polygon points="1420.5,631.0 1458.5,631.0 1439.5,666.8" fill="#008000"/>
<polygon points="1785.5,351.0 1764.6,388.0 1806.4,388.0" fill="#0000f5"/>
<polygon points="1785.3,447.9 1766.9,480.0 1803.7,480.0" fill="#fff" stroke="#2a2090" stroke-width="2.6" stroke-linejoin="miter"/>
<circle cx="1787.9" cy="561.5" r="18.5" fill="#00dd00"/>
<rect x="1764.6" y="629.6" width="29.8" height="29.8" fill="#ff8000"/>
<text x="1135.2" y="397" font-family="Liberation Sans, Arial, Helvetica, sans-serif" stroke="#fff" stroke-width="0.5" font-size="65" fill="#000">NO<tspan font-size="50" dy="22">2</tspan><tspan dy="-22"> ads</tspan></text>
<text x="1135.2" y="490.5" font-family="Liberation Sans, Arial, Helvetica, sans-serif" stroke="#fff" stroke-width="0.5" font-size="65" fill="#000">NO<tspan font-size="50" dy="22">2</tspan><tspan dy="-22"> des</tspan></text>
<text x="1135.2" y="584.6" font-family="Liberation Sans, Arial, Helvetica, sans-serif" stroke="#fff" stroke-width="0.5" font-size="65" fill="#000">CH<tspan font-size="50" dy="22">4</tspan></text>
<text x="1135.2" y="667.5" font-family="Liberation Sans, Arial, Helvetica, sans-serif" stroke="#fff" stroke-width="0.5" font-size="65" fill="#000">Ar</text>
<text x="1484.3" y="397" font-family="Liberation Sans, Arial, Helvetica, sans-serif" stroke="#fff" stroke-width="0.5" font-size="65" fill="#000">SO<tspan font-size="50" dy="22">2</tspan><tspan dy="-22"> ads</tspan></text>
<text x="1484.3" y="490.5" font-family="Liberation Sans, Arial, Helvetica, sans-serif" stroke="#fff" stroke-width="0.5" font-size="65" fill="#000">SO<tspan font-size="50" dy="22">2</tspan><tspan dy="-22"> des</tspan></text>
<text x="1484.3" y="584.6" font-family="Liberation Sans, Arial, Helvetica, sans-serif" stroke="#fff" stroke-width="0.5" font-size="65" fill="#000">CO</text>
<text x="1484.3" y="667.5" font-family="Liberation Sans, Arial, Helvetica, sans-serif" stroke="#fff" stroke-width="0.5" font-size="65" fill="#000">H<tspan font-size="50" dy="22">2</tspan></text>
<text x="1826.5" y="397" font-family="Liberation Sans, Arial, Helvetica, sans-serif" stroke="#fff" stroke-width="0.5" font-size="65" fill="#000">CO<tspan font-size="50" dy="22">2</tspan><tspan dy="-22"> ads</tspan></text>
<text x="1826.5" y="490.5" font-family="Liberation Sans, Arial, Helvetica, sans-serif" stroke="#fff" stroke-width="0.5" font-size="65" fill="#000">CO<tspan font-size="50" dy="22">2</tspan><tspan dy="-22"> des</tspan></text>
<text x="1826.5" y="584.6" font-family="Liberation Sans, Arial, Helvetica, sans-serif" stroke="#fff" stroke-width="0.5" font-size="65" fill="#000">N<tspan font-size="50" dy="22">2</tspan></text>
<text x="1826.5" y="667.5" font-family="Liberation Sans, Arial, Helvetica, sans-serif" stroke="#fff" stroke-width="0.5" font-size="65" fill="#000">O<tspan font-size="50" dy="22">2</tspan></text>
</g>
</svg>
</body></html>
